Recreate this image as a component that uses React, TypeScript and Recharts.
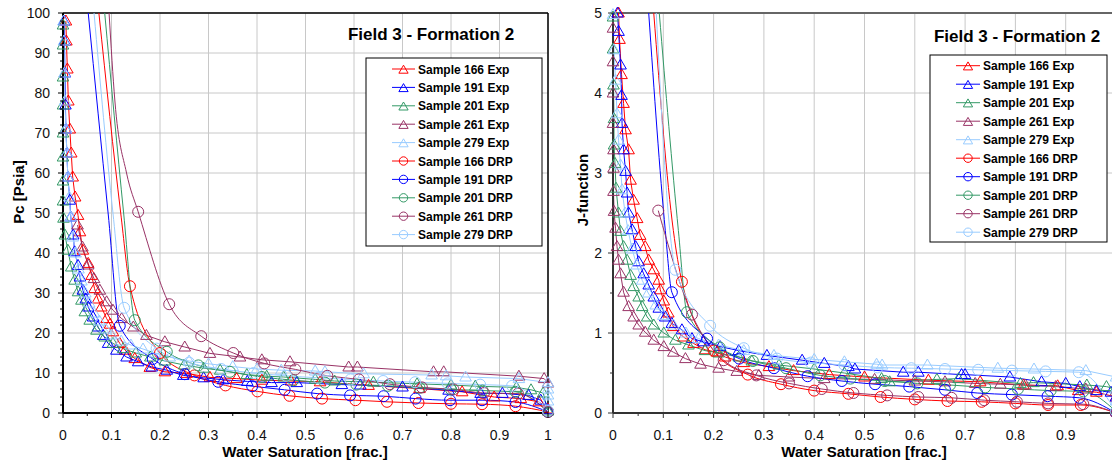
import { ComposedChart, Line, XAxis, YAxis, CartesianGrid, ReferenceLine } from 'recharts'

type Pt = [number, number]

const FONT = "'Liberation Sans', Arial, sans-serif"

const samples = ['166', '191', '201', '261', '279']
const colors = ['#FF0000', '#0000FF', '#339966', '#993366', '#99CCFF']

const satMajor = [0, 0.1, 0.2, 0.3, 0.4, 0.5, 0.6, 0.7, 0.8, 0.9, 1]
const satMinor = [0, 0.05, 0.1, 0.15, 0.2, 0.25, 0.3, 0.35, 0.4, 0.45, 0.5, 0.55, 0.6, 0.65, 0.7, 0.75, 0.8, 0.85, 0.9, 0.95, 1]
const pcMajor = [0, 10, 20, 30, 40, 50, 60, 70, 80, 90, 100]
const pcMinor = Array.from({ length: 51 }, (_, i) => i * 2)
const jMajor = [0, 1, 2, 3, 4, 5]
const jMinor = [0, 0.5, 1, 1.5, 2, 2.5, 3, 3.5, 4, 4.5, 5]

// ---- Pc vs Sw (left) : experimental points
const pcExp166: Pt[] = [[0.006, 98], [0.007, 93], [0.009, 86], [0.011, 78], [0.014, 71], [0.017, 65], [0.02, 59], [0.025, 54], [0.031, 49.4], [0.035, 45.3], [0.041, 40.7], [0.052, 37.4], [0.059, 34.4], [0.065, 31.1], [0.072, 28.5], [0.079, 26.5], [0.09, 23.6], [0.097, 22.2], [0.103, 20.3], [0.117, 17.4], [0.128, 15.7], [0.148, 13.6], [0.179, 11.4], [0.21, 10.3], [0.255, 9.9], [0.303, 8.9], [0.358, 8.6], [0.41, 8.2], [0.47, 8.0], [0.53, 7.8], [0.63, 6.9], [0.735, 6.1], [0.823, 5.3], [0.889, 4.0], [0.944, 3.6], [0.981, 2.8], [1.0, 1.0]]
const pcExp191: Pt[] = [[0.002, 98], [0.003, 93], [0.004, 85], [0.005, 77], [0.006, 71], [0.008, 65], [0.01, 59], [0.014, 53.2], [0.016, 49], [0.021, 44.5], [0.024, 40.3], [0.031, 36.9], [0.035, 34], [0.041, 30.7], [0.047, 28.5], [0.052, 26.5], [0.062, 24], [0.072, 21.5], [0.083, 19.4], [0.093, 17.4], [0.11, 15.7], [0.131, 14], [0.155, 12.8], [0.183, 11.5], [0.214, 10.7], [0.248, 9.4], [0.29, 8.8], [0.33, 8.3], [0.38, 7.9], [0.43, 7.6], [0.482, 7.6], [0.575, 7.1], [0.613, 7.0], [0.7, 6.5], [0.795, 5.7], [0.861, 4.9], [0.906, 4.9], [0.96, 4.4], [0.985, 3.2], [1.0, 0.8]]
const pcExp201: Pt[] = [[0, 97], [0, 92], [0, 84], [0, 77], [0, 70], [0, 64], [0, 58], [0, 53], [0.001, 48.7], [0.004, 44.5], [0.01, 40.7], [0.017, 36.5], [0.024, 33.2], [0.031, 30.3], [0.038, 28.2], [0.045, 25.3], [0.055, 23.2], [0.069, 20.7], [0.086, 19], [0.103, 17.4], [0.124, 16.1], [0.15, 15], [0.18, 14], [0.21, 13], [0.25, 12], [0.29, 11.2], [0.324, 10.7], [0.379, 9.6], [0.42, 9.2], [0.455, 9], [0.52, 8.4], [0.56, 8.0], [0.64, 7.7], [0.73, 7.3], [0.8, 7.0], [0.85, 6.7], [0.935, 6.4], [0.965, 5.8], [0.99, 5.0], [1.0, 0.5]]
const pcExp261: Pt[] = [[0.03, 47], [0.04, 41.5], [0.052, 37], [0.064, 33.6], [0.076, 30.7], [0.09, 27.8], [0.103, 25.7], [0.121, 23.6], [0.145, 21.5], [0.172, 19.4], [0.21, 17.8], [0.251, 16.5], [0.303, 14.9], [0.365, 14], [0.41, 13.3], [0.468, 12.8], [0.589, 11.5], [0.607, 11.5], [0.764, 10.3], [0.785, 10.3], [0.94, 9.2], [0.992, 8.6], [1.0, 7.5]]
const pcExp279: Pt[] = [[0.001, 98], [0.002, 93], [0.003, 85], [0.004, 78], [0.006, 71], [0.008, 65], [0.01, 59], [0.013, 54], [0.016, 49], [0.02, 44], [0.026, 40], [0.032, 36], [0.038, 33], [0.046, 30], [0.054, 27.5], [0.064, 25], [0.075, 23], [0.088, 21], [0.1, 19.5], [0.12, 18], [0.14, 17], [0.165, 16], [0.19, 15], [0.22, 14], [0.26, 13], [0.3, 12.3], [0.35, 11.6], [0.4, 11], [0.45, 10.7], [0.52, 10.5], [0.54, 10.3], [0.62, 9.8], [0.76, 9.5], [0.79, 9.3], [0.83, 9], [0.94, 8.6], [1.0, 7.6], [1.0, 6], [1.0, 4.5], [1.0, 3]]

// ---- Pc vs Sw (left) : DRP model, line above first marker, then markers
const pcDrpTop166: Pt[] = [[0.074, 100], [0.119, 50]]
const pcDrp166: Pt[] = [[0.138, 31.7], [0.2, 15], [0.271, 9.4], [0.335, 6.9], [0.401, 5.4], [0.467, 4.3], [0.534, 3.6], [0.603, 3.2], [0.668, 2.8], [0.733, 2.5], [0.8, 2.3], [0.864, 2.2], [0.933, 1.7], [1.0, 0.3]]
const pcDrpTop191: Pt[] = [[0.052, 100], [0.093, 50]]
const pcDrp191: Pt[] = [[0.117, 21.8], [0.185, 13.5], [0.251, 9.7], [0.32, 7.8], [0.39, 6.7], [0.457, 5.8], [0.524, 4.85], [0.592, 4.4], [0.661, 4.2], [0.727, 3.6], [0.798, 3.2], [0.864, 3.2], [0.933, 2.75], [1.0, 0.3]]
const pcDrpTop201: Pt[] = [[0.086, 100], [0.125, 50]]
const pcDrp201: Pt[] = [[0.148, 23.2], [0.214, 15.3], [0.279, 11.9], [0.344, 10.3], [0.41, 9.0], [0.475, 8.2], [0.54, 7.6], [0.605, 7.1], [0.67, 6.8], [0.735, 6.3], [0.8, 5.9], [0.865, 5.6], [0.933, 5.3], [1.0, 0.3]]
const pcDrpTop261: Pt[] = [[0.095, 100], [0.107, 78], [0.131, 60]]
const pcDrp261: Pt[] = [[0.155, 50.3], [0.219, 27.2], [0.285, 19.2], [0.351, 15], [0.415, 12.4], [0.479, 10.9], [0.545, 9.3], [0.61, 8.4], [0.674, 7.2], [0.74, 6.4], [0.805, 5.9], [0.868, 5.0], [0.938, 4.85], [1.0, 0.3]]
const pcDrpTop279: Pt[] = [[0.064, 100], [0.103, 50]]
const pcDrp279: Pt[] = [[0.126, 26.3], [0.193, 16.1], [0.26, 12.6], [0.326, 11], [0.393, 10.0], [0.46, 9.3], [0.526, 8.8], [0.593, 8.4], [0.66, 8.0], [0.726, 7.7], [0.793, 7.4], [0.86, 7.1], [0.926, 6.8], [1.0, 0.5]]

// ---- J-function vs Sw (right) : experimental points
const jExp166: Pt[] = [[0.011, 5.0], [0.013, 4.67], [0.017, 4.23], [0.021, 3.87], [0.025, 3.54], [0.031, 3.29], [0.035, 2.91], [0.041, 2.66], [0.048, 2.43], [0.054, 2.22], [0.064, 2.08], [0.071, 1.91], [0.081, 1.79], [0.091, 1.66], [0.094, 1.54], [0.101, 1.4], [0.11, 1.25], [0.12, 1.08], [0.14, 0.95], [0.16, 0.87], [0.183, 0.79], [0.207, 0.76], [0.223, 0.7], [0.26, 0.63], [0.31, 0.58], [0.359, 0.53], [0.43, 0.48], [0.5, 0.45], [0.627, 0.41], [0.73, 0.39], [0.816, 0.35], [0.884, 0.34], [0.925, 0.28], [0.961, 0.26], [1.0, 0.2]]
const jExp191: Pt[] = [[0.009, 5.0], [0.011, 4.77], [0.015, 4.35], [0.017, 3.97], [0.018, 3.62], [0.021, 3.29], [0.025, 3.02], [0.028, 2.75], [0.031, 2.5], [0.038, 2.29], [0.045, 2.08], [0.051, 1.89], [0.061, 1.74], [0.071, 1.6], [0.081, 1.45], [0.091, 1.31], [0.104, 1.2], [0.117, 1.12], [0.137, 1.04], [0.157, 0.93], [0.18, 0.89], [0.213, 0.83], [0.25, 0.78], [0.306, 0.72], [0.376, 0.66], [0.42, 0.62], [0.468, 0.58], [0.481, 0.55], [0.577, 0.51], [0.607, 0.51], [0.693, 0.48], [0.7, 0.48], [0.789, 0.45], [0.852, 0.39], [0.9, 0.37], [0.928, 0.33], [0.961, 0.28], [0.99, 0.26], [1.0, 0.2]]
const jExp201: Pt[] = [[0, 4.95], [0, 4.55], [0.001, 4.1], [0.002, 3.68], [0.002, 3.35], [0.004, 3.12], [0.006, 2.81], [0.011, 2.5], [0.015, 2.27], [0.021, 2.08], [0.028, 1.91], [0.035, 1.72], [0.041, 1.58], [0.051, 1.45], [0.058, 1.33], [0.068, 1.2], [0.081, 1.1], [0.101, 1.0], [0.124, 0.91], [0.15, 0.85], [0.183, 0.78], [0.21, 0.75], [0.25, 0.7], [0.276, 0.65], [0.33, 0.6], [0.4, 0.55], [0.46, 0.5], [0.534, 0.43], [0.55, 0.39], [0.644, 0.42], [0.687, 0.43], [0.81, 0.37], [0.836, 0.38], [0.942, 0.35], [0.981, 0.33], [1.0, 0.3]]
const jExp261: Pt[] = [[0, 4.81], [0, 4.39], [0, 4.0], [0, 3.62], [0.001, 3.29], [0.001, 3.06], [0.001, 2.77], [0.002, 2.52], [0.005, 2.31], [0.008, 2.08], [0.011, 1.91], [0.015, 1.74], [0.021, 1.51], [0.031, 1.33], [0.041, 1.2], [0.051, 1.1], [0.064, 1.01], [0.081, 0.91], [0.101, 0.83], [0.12, 0.76], [0.144, 0.68], [0.174, 0.61], [0.21, 0.56], [0.246, 0.52], [0.29, 0.47], [0.35, 0.45], [0.42, 0.43], [0.52, 0.42], [0.6, 0.4], [0.66, 0.39], [0.72, 0.37], [0.77, 0.36], [0.82, 0.35], [0.88, 0.33], [0.94, 0.3], [1.0, 0.27]]
const jExp279: Pt[] = [[0, 4.98], [0.002, 4.54], [0.005, 4.16], [0.008, 3.74], [0.011, 3.41], [0.015, 3.1], [0.018, 2.79], [0.024, 2.5], [0.03, 2.28], [0.038, 2.05], [0.047, 1.85], [0.058, 1.66], [0.07, 1.5], [0.085, 1.35], [0.1, 1.22], [0.12, 1.1], [0.145, 1.0], [0.17, 0.93], [0.21, 0.85], [0.26, 0.78], [0.32, 0.72], [0.4, 0.67], [0.46, 0.64], [0.524, 0.61], [0.535, 0.6], [0.625, 0.6], [0.765, 0.56], [0.837, 0.55], [0.94, 0.53], [1.0, 0.45], [1.0, 0.3], [1.0, 0.15]]

// ---- J-function vs Sw (right) : DRP model
const jDrpTop166: Pt[] = [[0.081, 5], [0.12, 2.28]]
const jDrp166: Pt[] = [[0.137, 1.64], [0.2, 0.78], [0.268, 0.48], [0.334, 0.36], [0.4, 0.28], [0.468, 0.24], [0.532, 0.2], [0.6, 0.17], [0.665, 0.15], [0.733, 0.14], [0.8, 0.12], [0.865, 0.1], [0.93, 0.1], [1.0, 0.0]]
const jDrpTop191: Pt[] = [[0.071, 5], [0.104, 2.28]]
const jDrp191: Pt[] = [[0.117, 1.51], [0.187, 0.93], [0.251, 0.68], [0.32, 0.56], [0.387, 0.46], [0.455, 0.4], [0.521, 0.36], [0.589, 0.33], [0.66, 0.29], [0.724, 0.25], [0.793, 0.23], [0.864, 0.21], [0.927, 0.19], [1.0, 0.0]]
const jDrpTop201: Pt[] = [[0.092, 5], [0.13, 2.28]]
const jDrp201: Pt[] = [[0.147, 1.26], [0.212, 0.82], [0.278, 0.65], [0.344, 0.56], [0.412, 0.47], [0.472, 0.43], [0.54, 0.4], [0.605, 0.37], [0.67, 0.35], [0.74, 0.32], [0.805, 0.3], [0.87, 0.28], [0.935, 0.27], [1.0, 0.02]]
const jDrpTop261: Pt[] = []
const jDrp261: Pt[] = [[0.09, 2.53], [0.157, 1.23], [0.22, 0.66], [0.285, 0.47], [0.35, 0.37], [0.415, 0.3], [0.478, 0.25], [0.545, 0.22], [0.607, 0.2], [0.673, 0.19], [0.738, 0.16], [0.803, 0.14], [0.865, 0.12], [0.935, 0.11], [1.0, 0.0]]
const jDrpTop279: Pt[] = [[0.086, 5], [0.113, 2.28]]
const jDrp279: Pt[] = [[0.124, 1.79], [0.193, 1.09], [0.26, 0.81], [0.326, 0.68], [0.393, 0.63], [0.46, 0.6], [0.526, 0.57], [0.593, 0.56], [0.66, 0.55], [0.726, 0.54], [0.793, 0.53], [0.86, 0.52], [0.926, 0.51], [1.0, 0.02]]

const pcExp = [pcExp166, pcExp191, pcExp201, pcExp261, pcExp279]
const pcDrpTop = [pcDrpTop166, pcDrpTop191, pcDrpTop201, pcDrpTop261, pcDrpTop279]
const pcDrp = [pcDrp166, pcDrp191, pcDrp201, pcDrp261, pcDrp279]
const jExp = [jExp166, jExp191, jExp201, jExp261, jExp279]
const jDrpTop = [jDrpTop166, jDrpTop191, jDrpTop201, jDrpTop261, jDrpTop279]
const jDrp = [jDrp166, jDrp191, jDrp201, jDrp261, jDrp279]

const toXY = (pts: Pt[]) => pts.map(([x, y]) => ({ x, y }))
const isMajor = (v: number, majors: number[]) => majors.some((m) => Math.abs(m - v) < 1e-9)

const Tri = ({ cx, cy, c, s = 1 }: any) => (
  <polygon
    points={`${cx},${cy - 6 * s} ${cx - 5.8 * s},${cy + 4 * s} ${cx + 5.8 * s},${cy + 4 * s}`}
    fill="none"
    stroke={c}
    strokeWidth={1}
  />
)

const Circ = ({ cx, cy, c, r = 5.5 }: any) => <circle cx={cx} cy={cy} r={r} fill="none" stroke={c} strokeWidth={1} />

interface PanelProps {
  left: number
  width: number
  marginLeft: number
  marginRight: number
  yAxisWidth: number
  yMax: number
  yMajor: number[]
  yMinor: number[]
  labelGap: number
  showLastX: boolean
  axisColor: string
  frameColor: string
  frameWidth: number
  exp: Pt[][]
  drpTop: Pt[][]
  drp: Pt[][]
}

function Panel(p: PanelProps) {
  const yTick = (t: any) => {
    const v = t.payload.value
    const major = isMajor(v, p.yMajor)
    return (
      <g>
        <line x1={t.x} x2={t.x - (major ? 5 : 3)} y1={t.y} y2={t.y} stroke={p.axisColor} strokeWidth={1} />
        {major && (
          <text x={t.x - p.labelGap} y={t.y + 5} textAnchor="end" fontSize={14} fontFamily={FONT} fill="#111">
            {v}
          </text>
        )}
      </g>
    )
  }
  const xTick = (t: any) => {
    const v = t.payload.value
    const major = isMajor(v, satMajor)
    const label = major && (p.showLastX || v < 1)
    return (
      <g>
        <line x1={t.x} x2={t.x} y1={t.y} y2={t.y + (major ? 5 : 3)} stroke={p.axisColor} strokeWidth={1} />
        {label && (
          <text x={t.x} y={t.y + 27} textAnchor="middle" fontSize={14} fontFamily={FONT} fill="#111">
            {v}
          </text>
        )}
      </g>
    )
  }

  return (
    <div style={{ position: 'absolute', left: p.left, top: 0 }}>
      <ComposedChart
        width={p.width}
        height={463}
        margin={{ top: 13, right: p.marginRight, bottom: 0, left: p.marginLeft }}
      >
        <CartesianGrid
          horizontalValues={p.yMajor}
          verticalValues={satMajor}
          stroke="#c8c8c8"
          strokeWidth={1}
        />
        <XAxis
          dataKey="x"
          type="number"
          domain={[0, 1]}
          ticks={satMinor}
          interval={0}
          height={50}
          tickSize={0}
          tickMargin={0}
          tick={xTick}
          tickLine={false}
          axisLine={{ stroke: p.axisColor, strokeWidth: 2 }}
        />
        <YAxis
          dataKey="y"
          type="number"
          domain={[0, p.yMax]}
          ticks={p.yMinor}
          interval={0}
          width={p.yAxisWidth}
          tickSize={0}
          tickMargin={0}
          tick={yTick}
          tickLine={false}
          axisLine={{ stroke: p.axisColor, strokeWidth: 2 }}
        />
        <ReferenceLine y={p.yMax} stroke={p.frameColor} strokeWidth={p.frameWidth} />
        <ReferenceLine x={1} stroke={p.frameColor} strokeWidth={p.frameWidth} />
        {p.exp.map((pts, i) => (
          <Line
            key={'exp' + i}
            data={toXY(pts)}
            dataKey="y"
            type="linear"
            stroke={colors[i]}
            strokeWidth={1}
            dot={(d: any) => <Tri key={`e${i}-${d.index}`} cx={d.cx} cy={d.cy} c={colors[i]} />}
            activeDot={false}
            isAnimationActive={false}
          />
        ))}
        {p.drp.map((pts, i) => {
          const top = p.drpTop[i]
          return (
            <Line
              key={'drp' + i}
              data={toXY([...top, ...pts])}
              dataKey="y"
              type="monotone"
              stroke={colors[i]}
              strokeWidth={1}
              dot={(d: any) =>
                d.index < top.length ? (
                  <g key={`d${i}-${d.index}`} />
                ) : (
                  <Circ key={`d${i}-${d.index}`} cx={d.cx} cy={d.cy} c={colors[i]} />
                )
              }
              activeDot={false}
              isAnimationActive={false}
            />
          )
        })}
      </ComposedChart>
    </div>
  )
}

function LegendBox({ x, y, w, h, row0, step, lx1, lx2, tx }: any) {
  const items = [
    ...samples.map((s, i) => ({ label: `Sample ${s} Exp`, c: colors[i], kind: 'tri' })),
    ...samples.map((s, i) => ({ label: `Sample ${s} DRP`, c: colors[i], kind: 'circ' })),
  ]
  const mx = (lx1 + lx2) / 2
  return (
    <g>
      <rect x={x} y={y} width={w} height={h} fill="#fff" stroke="#000" strokeWidth={1} />
      {items.map((it, i) => {
        const cy = row0 + i * step
        return (
          <g key={it.label}>
            <line x1={lx1} x2={lx2} y1={cy} y2={cy} stroke={it.c} strokeWidth={1} />
            {it.kind === 'tri' ? (
              <Tri cx={mx} cy={cy + 1} c={it.c} s={0.8} />
            ) : (
              <Circ cx={mx} cy={cy} c={it.c} r={4.2} />
            )}
            <text x={tx} y={cy + 4.5} fontSize={12} fontWeight="bold" fontFamily={FONT} fill="#000">
              {it.label}
            </text>
          </g>
        )
      })}
    </g>
  )
}

export default function App() {
  return (
    <div
      style={{
        position: 'absolute',
        left: 0,
        top: 0,
        width: 1112,
        height: 463,
        overflow: 'hidden',
        background: '#fff',
      }}
    >
      <Panel
        left={0}
        width={560}
        marginLeft={18}
        marginRight={12}
        yAxisWidth={45}
        yMax={100}
        yMajor={pcMajor}
        yMinor={pcMinor}
        labelGap={13}
        showLastX={true}
        axisColor="#000"
        frameColor="#000"
        frameWidth={1.5}
        exp={pcExp}
        drpTop={pcDrpTop}
        drp={pcDrp}
      />
      <Panel
        left={560}
        width={600}
        marginLeft={13}
        marginRight={44}
        yAxisWidth={40}
        yMax={5}
        yMajor={jMajor}
        yMinor={jMinor}
        labelGap={11}
        showLastX={false}
        axisColor="#333"
        frameColor="#666"
        frameWidth={2}
        exp={jExp}
        drpTop={jDrpTop}
        drp={jDrp}
      />
      <svg
        width={1112}
        height={463}
        style={{ position: 'absolute', left: 0, top: 0, pointerEvents: 'none' }}
      >
        <text x={431} y={40} textAnchor="middle" fontSize={17} fontWeight="bold" fontFamily={FONT}>
          Field 3 - Formation 2
        </text>
        <text x={1017} y={41.5} textAnchor="middle" fontSize={17} fontWeight="bold" fontFamily={FONT}>
          Field 3 - Formation 2
        </text>
        <text x={305} y={457} textAnchor="middle" fontSize={15} fontWeight="bold" fontFamily={FONT}>
          Water Saturation [frac.]
        </text>
        <text x={864} y={457} textAnchor="middle" fontSize={15} fontWeight="bold" fontFamily={FONT}>
          Water Saturation [frac.]
        </text>
        <text
          transform="translate(24,192) rotate(-90)"
          textAnchor="middle"
          fontSize={15}
          fontWeight="bold"
          fontFamily={FONT}
        >
          Pc [Psia]
        </text>
        <text
          transform="translate(588,190) rotate(-90)"
          textAnchor="middle"
          fontSize={15}
          fontWeight="bold"
          fontFamily={FONT}
        >
          J-function
        </text>
        <LegendBox x={366} y={58} w={176} h={188} row0={69} step={18.4} lx1={392} lx2={415} tx={418} />
        <LegendBox x={930} y={55} w={177} h={187} row0={65.7} step={18.5} lx1={956} lx2={980} tx={983} />
      </svg>
    </div>
  )
}
